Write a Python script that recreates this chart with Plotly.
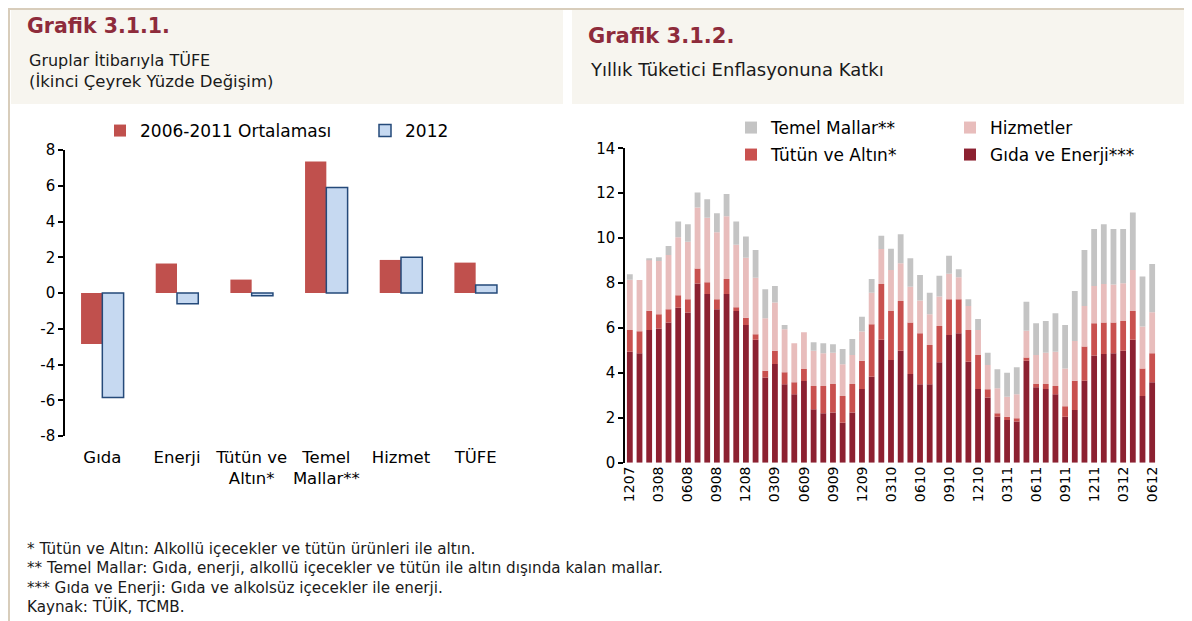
import plotly.graph_objects as go

# ── Canvas ────────────────────────────────────────────────────────────────────
# The page body adds an 8px margin, so the figure is drawn 8px smaller and all
# positions below are given in window pixels and shifted back by OFF.
W, H, OFF = 1192, 621, 8
FW, FH = W - OFF, H - OFF
TITLE_RED = "#8E2B3B"
TEXT = "#1A1A1A"
BOX_BG = "#F7F5EF"
FRAME = "#D8CDBB"
FONT = "DejaVu Sans, sans-serif"


def px_x(v):
    return (v - OFF) / FW


def px_y(v):
    return 1 - (v - OFF) / FH


# ── Grafik 3.1.1 data ─────────────────────────────────────────────────────────
groups = ["Gıda", "Enerji", "Tütün ve<br>Altın*", "Temel<br>Mallar**", "Hizmet", "TÜFE"]
avg_2006_2011 = [-2.85, 1.65, 0.75, 7.35, 1.85, 1.70]
val_2012 = [-5.85, -0.60, -0.15, 5.90, 2.00, 0.45]
left_ticks = [-8, -6, -4, -2, 0, 2, 4, 6, 8]

# ── Grafik 3.1.2 data (monthly, MMYY, 12.2007 - 06.2012) ─────────────────────
months = ["1207"] + [f"{m:02d}{y:02d}" for y in range(8, 13) for m in range(1, 13)][:54]
tick_labels = ["1207", "0308", "0608", "0908", "1208", "0309", "0609", "0909", "1209",
               "0310", "0610", "0910", "1210", "0311", "0611", "0911", "1211", "0312", "0612"]

gida_enerji = [4.94, 4.87, 5.91, 5.98, 6.24, 6.90, 6.69, 7.98, 7.51, 6.83, 7.51, 6.76, 6.13,
               5.47, 3.79, 4.40, 3.49, 3.05, 3.64, 2.38, 2.20, 2.23, 1.78, 2.23, 3.28, 3.83,
               5.47, 4.57, 4.99, 3.95, 3.49, 3.49, 4.47, 5.69, 5.76, 4.50, 3.28, 2.90, 2.05,
               1.90, 1.83, 4.54, 3.36, 3.28, 3.05, 2.05, 2.35, 3.65, 4.77, 4.84, 4.87, 4.99,
               5.47, 2.97, 3.58]
tutun_altin = [0.97, 0.98, 0.86, 0.63, 0.59, 0.56, 0.59, 0.67, 0.53, 0.45, 0.67, 0.16, 0.33,
               0.25, 0.31, 0.59, 0.54, 0.53, 0.53, 1.04, 1.22, 1.28, 1.19, 1.28, 1.26, 2.33,
               2.49, 2.19, 2.21, 2.29, 2.27, 1.75, 1.62, 1.59, 1.52, 1.41, 1.52, 0.37, 0.15,
               0.15, 0.15, 0.15, 0.15, 0.23, 0.37, 0.46, 1.30, 1.52, 1.44, 1.40, 1.37, 1.32,
               1.29, 1.23, 1.29]
hizmetler = [2.24, 2.29, 2.27, 2.37, 2.42, 2.58, 2.56, 2.71, 2.87, 2.98, 2.79, 2.78, 2.67,
             2.52, 2.33, 2.14, 1.91, 1.74, 1.64, 1.56, 1.45, 1.39, 1.41, 1.29, 1.30, 1.41,
             1.56, 1.82, 1.68, 1.60, 1.46, 1.37, 1.31, 1.13, 0.98, 1.07, 1.11, 1.08, 1.11,
             0.89, 1.07, 1.19, 1.29, 1.39, 1.52, 1.69, 1.77, 1.81, 1.66, 1.72, 1.70, 1.68,
             1.82, 1.86, 1.83]
temel_mallar = [0.24, 0.00, 0.05, 0.17, 0.40, 0.70, 0.78, 0.67, 0.82, 0.85, 1.00, 1.04, 0.94,
                1.23, 1.29, 0.74, 0.19, 0.00, 0.00, 0.38, 0.45, 0.37, 0.68, 0.71, 0.66, 0.61,
                0.59, 0.95, 1.29, 1.26, 1.14, 0.96, 0.93, 0.80, 0.35, 0.30, 0.49, 0.55, 0.85,
                1.07, 1.20, 1.29, 1.41, 1.41, 1.71, 1.93, 2.23, 2.49, 2.54, 2.66, 2.47, 2.42,
                2.56, 2.23, 2.15]

# ── Domains (paper) ───────────────────────────────────────────────────────────
L_X = [px_x(65), px_x(513)]
L_Y = [px_y(436), px_y(150)]
R_X = [px_x(625), px_x(1157)]
R_Y = [px_y(462.7), px_y(148.3)]
L_ZERO = L_Y[0] + (L_Y[1] - L_Y[0]) * 0.5

fig = go.Figure()

# ═════════════════════════════════════════════════════════════════════════════
# Left chart: side-by-side bars (overlay mode, explicit offsets)
# ═════════════════════════════════════════════════════════════════════════════
GW = 0.285
fig.add_trace(go.Bar(
    x=groups, y=avg_2006_2011, name="2006-2011 Ortalaması",
    width=GW, offset=-GW,
    marker={"color": "#C0504D", "line": {"width": 0}},
    xaxis="x", yaxis="y", legend="legend",
))
fig.add_trace(go.Bar(
    x=groups, y=val_2012, name="2012",
    width=GW, offset=0,
    marker={"color": "#C6D9F1", "line": {"color": "#254A7A", "width": 1.5}},
    xaxis="x", yaxis="y", legend="legend",
))

# ═════════════════════════════════════════════════════════════════════════════
# Right chart: stacked bars (bases from running totals)
# ═════════════════════════════════════════════════════════════════════════════
stack = [
    ("Gıda ve Enerji***", gida_enerji, "#8C2131", "legend3"),
    ("Tütün ve Altın*", tutun_altin, "#C9514F", "legend3"),
    ("Hizmetler", hizmetler, "#E8BDBC", "legend2"),
    ("Temel Mallar**", temel_mallar, "#C4C4C4", "legend2"),
]
base = [0.0] * len(months)
for name, vals, color, leg in stack:
    fig.add_trace(go.Bar(
        x=months, y=vals, base=list(base), name=name, width=0.6,
        marker={"color": color, "line": {"width": 0}},
        xaxis="x3", yaxis="y3", legend=leg,
    ))
    base = [b + v for b, v in zip(base, vals)]

axis_line = {"showline": True, "linecolor": "#000000", "linewidth": 1.5}

legend_base = {
    "orientation": "h", "xanchor": "left", "yanchor": "middle",
    "bgcolor": "rgba(0,0,0,0)", "font": {"family": FONT, "size": 17, "color": "#000000"},
    "itemwidth": 30, "entrywidthmode": "pixels", "traceorder": "reversed",
}

fig.update_layout(
    width=FW, height=FH, autosize=False,
    paper_bgcolor="white", plot_bgcolor="rgba(0,0,0,0)",
    margin={"l": 0, "r": 0, "t": 0, "b": 0, "pad": 0, "autoexpand": False},
    barmode="overlay",
    # left chart axes
    xaxis={"domain": L_X, "anchor": "y", "type": "category", "range": [-0.5, 5.5],
           "showline": False, "ticks": "", "showgrid": False, "automargin": False,
           "ticklabelstandoff": 9,
           "tickfont": {"family": FONT, "size": 16.5, "color": "#000000"}},
    xaxis2={"overlaying": "x", "anchor": "free", "position": L_ZERO, "range": [-0.5, 5.5],
            "tickvals": [0.5, 1.5, 2.5, 3.5, 4.5, 5.5], "ticks": "outside", "ticklen": 7,
            "tickwidth": 1.5, "tickcolor": "#000000", "showticklabels": False,
            "showgrid": False, "zeroline": False, "automargin": False, **axis_line},
    yaxis={"domain": L_Y, "anchor": "x", "range": [-8, 8],
           "tickvals": left_ticks, "ticktext": [str(v) for v in left_ticks],
           "ticks": "outside", "ticklen": 5, "tickwidth": 1.5, "tickcolor": "#000000",
           "showgrid": False, "zeroline": False, "automargin": False,
           "tickfont": {"family": FONT, "size": 15, "color": "#000000"}, **axis_line},
    # right chart axes
    xaxis3={"domain": R_X, "anchor": "y3", "type": "category", "range": [-0.5, 54.5],
            "tickvals": tick_labels, "ticktext": tick_labels, "tickangle": -90,
            "ticks": "", "showline": False, "showgrid": False, "automargin": False,
            "tickfont": {"family": FONT, "size": 14, "color": "#000000"}},
    xaxis4={"overlaying": "x3", "anchor": "y3", "range": [-0.5, 54.5],
            "tickvals": [-0.5 + 3 * k for k in range(19)], "ticks": "outside", "ticklen": 5,
            "tickwidth": 1.5, "tickcolor": "#000000", "showticklabels": False,
            "showgrid": False, "zeroline": False, "automargin": False, **axis_line},
    yaxis3={"domain": R_Y, "anchor": "x3", "range": [0, 14], "dtick": 2,
            "ticks": "outside", "ticklen": 5, "tickwidth": 1.5, "tickcolor": "#000000",
            "showgrid": False, "zeroline": False, "automargin": False,
            "tickfont": {"family": FONT, "size": 15, "color": "#000000"}, **axis_line},
    legend={**legend_base, "x": px_x(100), "y": px_y(131), "entrywidth": 220,
            "traceorder": "normal"},
    legend2={**legend_base, "x": px_x(731), "y": px_y(128), "entrywidth": 174},
    legend3={**legend_base, "x": px_x(731), "y": px_y(155), "entrywidth": 174},
)

# ── Header boxes and frame ────────────────────────────────────────────────────
fig.add_shape(type="rect", xref="paper", yref="paper",
              x0=px_x(11), x1=px_x(563), y0=px_y(104), y1=px_y(10),
              fillcolor=BOX_BG, line={"width": 0}, layer="below")
fig.add_shape(type="rect", xref="paper", yref="paper",
              x0=px_x(572), x1=1, y0=px_y(104), y1=px_y(10),
              fillcolor=BOX_BG, line={"width": 0}, layer="below")
fig.add_shape(type="line", xref="paper", yref="paper",
              x0=0, x1=1, y0=px_y(9), y1=px_y(9), line={"color": FRAME, "width": 2})
fig.add_shape(type="line", xref="paper", yref="paper",
              x0=px_x(9), x1=px_x(9), y0=0, y1=px_y(9), line={"color": FRAME, "width": 2})


# ── Titles ────────────────────────────────────────────────────────────────────
def text(x, y, s, size, color=TEXT, bold=False):
    fig.add_annotation(
        x=px_x(x), y=px_y(y), xref="paper", yref="paper",
        text=f"<b>{s}</b>" if bold else s, showarrow=False,
        xanchor="left", yanchor="middle",
        font={"family": FONT, "size": size, "color": color},
    )


text(25, 26, "Grafik 3.1.1.", 20.5, TITLE_RED, bold=True)
text(27, 60, "Gruplar İtibarıyla TÜFE", 16)
text(27, 81, "(İkinci Çeyrek Yüzde Değişim)", 16.5)
text(586, 36, "Grafik 3.1.2.", 21, TITLE_RED, bold=True)
text(588, 70, "Yıllık Tüketici Enflasyonuna Katkı", 18)

# ── Footnotes ─────────────────────────────────────────────────────────────────
notes = [
    "* Tütün ve Altın: Alkollü içecekler ve tütün ürünleri ile altın.",
    "** Temel Mallar: Gıda, enerji, alkollü içecekler ve tütün ile altın dışında kalan mallar.",
    "*** Gıda ve Enerji: Gıda ve alkolsüz içecekler ile enerji.",
    "Kaynak: TÜİK, TCMB.",
]
for y, s in zip([549, 568, 588, 606], notes):
    text(25, y, s, 15.2)

fig.write_html("out.html")
